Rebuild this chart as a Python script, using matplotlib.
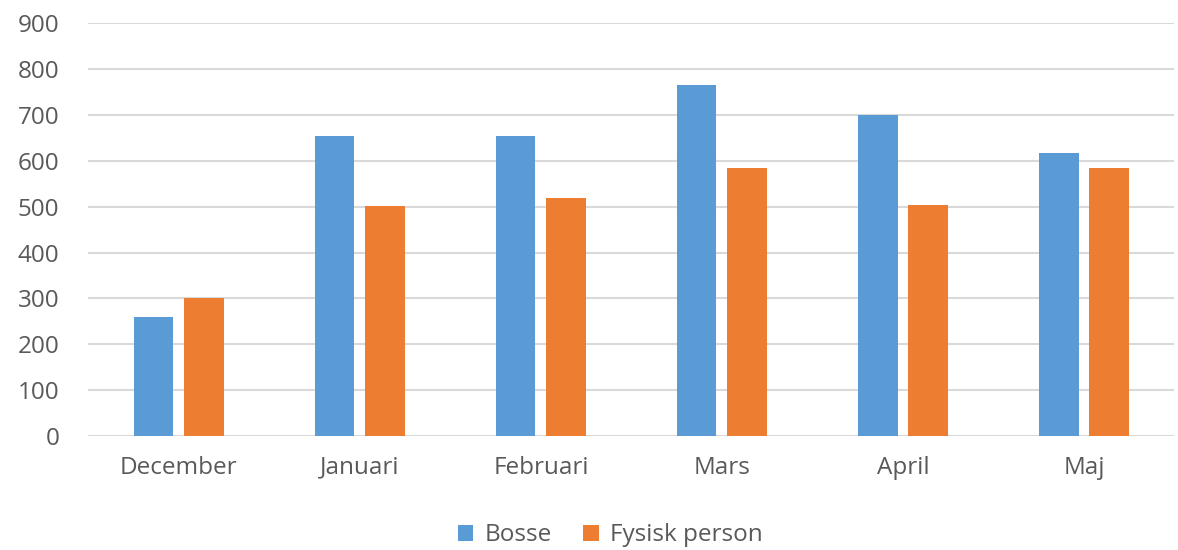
import matplotlib
matplotlib.use("Agg")
import matplotlib.pyplot as plt
import numpy as np

months = ["December", "Januari", "Februari", "Mars", "April", "Maj"]
bosse = [260, 654, 654, 766, 700, 616]
fysisk = [302, 501, 518, 584, 504, 584]

plt.rcParams['font.family'] = ['Open Sans', 'DejaVu Sans']

fig = plt.figure(figsize=(11.78, 5.5), dpi=100)
ax = fig.add_axes([0.075, 0.207, 0.922, 0.751])

x = np.arange(len(months))
w = 0.22
ax.bar(x - 0.14, bosse, w, color="#5b9bd5", label="Bosse", zorder=3)
ax.bar(x + 0.14, fysisk, w, color="#ed7d31", label="Fysisk person", zorder=3)

ax.set_xlim(-0.5, len(months) - 0.5)
ax.set_ylim(0, 900)
ax.set_yticks(range(0, 901, 100))
ax.set_xticks(x)
ax.set_xticklabels(months)
ax.grid(axis="y", color="#d9d9d9", linewidth=1.5, zorder=0)
for s in ax.spines.values():
    s.set_visible(False)
ax.tick_params(length=0, labelsize=17.5, colors="#595959")
ax.tick_params(axis="y", pad=21)
ax.tick_params(axis="x", pad=14)

fig.legend(loc="center", bbox_to_anchor=(0.518, 0.027), ncol=2, frameon=False,
           fontsize=17.5, labelcolor="#595959", handlelength=0.65, handleheight=0.65,
           columnspacing=1.3, handletextpad=0.45)

plt.savefig("out.png", dpi=100)
plt.close()
